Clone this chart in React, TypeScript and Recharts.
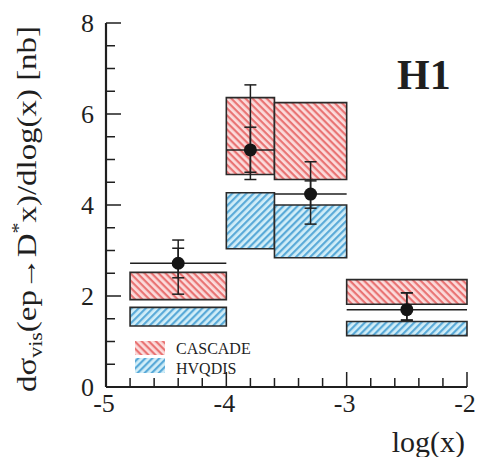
import React from 'react';
import {
  ComposedChart,
  XAxis,
  YAxis,
  Scatter,
  ErrorBar,
  ReferenceArea,
} from 'recharts';

// Bins in log(x)
const binLow = [-4.8, -4.0, -3.6, -3.0];
const binHigh = [-4.0, -3.6, -3.0, -2.0];

// CASCADE prediction band
const cascadeLow = [1.92, 4.67, 4.56, 1.82];
const cascadeHigh = [2.52, 6.36, 6.25, 2.36];

// HVQDIS prediction band
const hvqdisLow = [1.34, 3.04, 2.84, 1.13];
const hvqdisHigh = [1.75, 4.27, 4.0, 1.44];

// H1 data
const dataX = [-4.4, -3.8, -3.3, -2.5];
const dataY = [2.72, 5.21, 4.24, 1.7];
const statLow = [2.4, 4.72, 3.93, 1.47];
const statHigh = [3.05, 5.71, 4.53, 2.07];
const totLow = [2.04, 4.56, 3.58, 1.47];
const totHigh = [3.23, 6.64, 4.95, 2.07];

const xTicks = [-5, -4.8, -4.6, -4.4, -4.2, -4, -3.8, -3.6, -3.4, -3.2, -3, -2.8, -2.6, -2.4, -2.2, -2];
const yTicks = [0, 0.5, 1, 1.5, 2, 2.5, 3, 3.5, 4, 4.5, 5, 5.5, 6, 6.5, 7, 7.5, 8];
const xMajorLabels = ['-5', '-4', '-3', '-2'];
const yMajorLabels = ['0', '2', '4', '6', '8'];

const FONT = "'Liberation Serif', 'Times New Roman', serif";
const INK = '#1f1f1f';

const points = dataX.map((x, i) => ({
  x,
  y: dataY[i],
  ex: (binHigh[i] - binLow[i]) / 2,
  eStat: [dataY[i] - statLow[i], statHigh[i] - dataY[i]],
  eTot: [dataY[i] - totLow[i], totHigh[i] - dataY[i]],
}));

const isMajorX = (v: number) => Math.abs(v - Math.round(v)) < 1e-6;
const isMajorY = (v: number) => Math.abs(v / 2 - Math.round(v / 2)) < 1e-6;

const BottomTick = (props: any) => {
  const { x, y, payload } = props;
  const v = payload.value as number;
  const major = isMajorX(v);
  const len = major ? 15 : 9;
  return (
    <g>
      <line x1={x} y1={y} x2={x} y2={y - len} stroke={INK} strokeWidth={1.5} />
      {major && (
        <text x={x - 2} y={y + 25} textAnchor="middle" fontFamily={FONT} fontSize={26} fill={INK}>
          {xMajorLabels[Math.round(v) + 5]}
        </text>
      )}
    </g>
  );
};

const TopTick = (props: any) => {
  const { x, y, payload } = props;
  const major = isMajorX(payload.value);
  const len = major ? 15 : 9;
  return <line x1={x} y1={y} x2={x} y2={y + len} stroke={INK} strokeWidth={1.5} />;
};

const LeftTick = (props: any) => {
  const { x, y, payload } = props;
  const v = payload.value as number;
  const major = isMajorY(v);
  const len = major ? 15 : 9;
  return (
    <g>
      <line x1={x} y1={y} x2={x + len} y2={y} stroke={INK} strokeWidth={1.5} />
      {major && (
        <text x={x - 12} y={y + 9} textAnchor="end" fontFamily={FONT} fontSize={26} fill={INK}>
          {yMajorLabels[Math.round(v / 2)]}
        </text>
      )}
    </g>
  );
};

const RightTick = (props: any) => {
  const { x, y, payload } = props;
  const major = isMajorY(payload.value);
  const len = major ? 15 : 9;
  return <line x1={x} y1={y} x2={x - len} y2={y} stroke={INK} strokeWidth={1.5} />;
};

const Dot = (props: any) => {
  const { cx, cy } = props;
  return <circle cx={cx} cy={cy} r={6.5} fill="#151515" />;
};

export default function App() {
  return (
    <div style={{ position: 'absolute', left: 0, top: 0, width: 477, height: 457, background: '#fff' }}>
      <ComposedChart
        width={477}
        height={457}
        margin={{ top: 23, right: 10, bottom: 0, left: 0 }}
      >
        <defs>
          <pattern id="redHatch" patternUnits="userSpaceOnUse" width="5" height="5" patternTransform="rotate(45)">
            <rect x="0" y="0" width="5" height="5" fill="#fbdcdc" />
            <rect x="0" y="0" width="5" height="2.2" fill="#e97474" />
          </pattern>
          <pattern id="blueHatch" patternUnits="userSpaceOnUse" width="5" height="5" patternTransform="rotate(-45)">
            <rect x="0" y="0" width="5" height="5" fill="#d2eef8" />
            <rect x="0" y="0" width="5" height="2.2" fill="#5aaad8" />
          </pattern>
        </defs>
        <XAxis
          xAxisId="b"
          type="number"
          dataKey="x"
          domain={[-5, -2]}
          ticks={xTicks}
          interval={0}
          allowDataOverflow
          height={70}
          tickSize={0}
          tickMargin={0}
          tickLine={false}
          axisLine={{ stroke: INK, strokeWidth: 2.2 }}
          tick={<BottomTick />}
        />
        <XAxis
          xAxisId="t"
          orientation="top"
          type="number"
          dataKey="x"
          domain={[-5, -2]}
          ticks={xTicks}
          interval={0}
          allowDataOverflow
          height={0}
          tickSize={0}
          tickMargin={0}
          tickLine={false}
          axisLine={{ stroke: INK, strokeWidth: 2.2 }}
          tick={<TopTick />}
        />
        <YAxis
          yAxisId="l"
          type="number"
          dataKey="y"
          domain={[0, 8]}
          ticks={yTicks}
          interval={0}
          allowDataOverflow
          width={106}
          tickSize={0}
          tickMargin={0}
          tickLine={false}
          axisLine={{ stroke: INK, strokeWidth: 2.2 }}
          tick={<LeftTick />}
        />
        <YAxis
          yAxisId="r"
          orientation="right"
          type="number"
          dataKey="y"
          domain={[0, 8]}
          ticks={yTicks}
          interval={0}
          allowDataOverflow
          width={0}
          tickSize={0}
          tickMargin={0}
          tickLine={false}
          axisLine={{ stroke: INK, strokeWidth: 2.2 }}
          tick={<RightTick />}
        />

        {binLow.map((lo, i) => (
          <ReferenceArea
            key={`c${i}`}
            xAxisId="b"
            yAxisId="l"
            x1={lo}
            x2={binHigh[i]}
            y1={cascadeLow[i]}
            y2={cascadeHigh[i]}
            fill="url(#redHatch)"
            fillOpacity={1}
            stroke="#2a2a2a"
            strokeWidth={1.6}
            ifOverflow="extendDomain"
          />
        ))}
        {binLow.map((lo, i) => (
          <ReferenceArea
            key={`h${i}`}
            xAxisId="b"
            yAxisId="l"
            x1={lo}
            x2={binHigh[i]}
            y1={hvqdisLow[i]}
            y2={hvqdisHigh[i]}
            fill="url(#blueHatch)"
            fillOpacity={1}
            stroke="#2a2a2a"
            strokeWidth={1.6}
            ifOverflow="extendDomain"
          />
        ))}

        <Scatter
          xAxisId="b"
          yAxisId="l"
          data={points}
          dataKey="y"
          isAnimationActive={false}
          shape={<Dot />}
        >
          <ErrorBar dataKey="ex" direction="x" width={0} stroke={INK} strokeWidth={1.5} />
          <ErrorBar dataKey="eTot" direction="y" width={6} stroke={INK} strokeWidth={1.5} />
          <ErrorBar dataKey="eStat" direction="y" width={6} stroke={INK} strokeWidth={1.5} />
        </Scatter>

        <text x={397} y={89} fontFamily={FONT} fontWeight="bold" fontSize={42} fill={INK}>
          H1
        </text>
        <text x={465} y={452} textAnchor="end" fontFamily={FONT} fontSize={30} fill={INK}>
          log(x)
        </text>
        <text
          x={0}
          y={0}
          transform="translate(36,209) rotate(-90)"
          textAnchor="middle"
          fontFamily={FONT}
          fontSize={27}
          fill={INK}
          textLength={366}
          lengthAdjust="spacingAndGlyphs"
        >
          <tspan>dσ</tspan>
          <tspan dy={6} fontSize={18}>vis</tspan>
          <tspan dy={-6}>(ep→D</tspan>
          <tspan dy={-11} fontSize={18}>*</tspan>
          <tspan dy={11}>x)/dlog(x) [nb]</tspan>
        </text>

        <rect x={135} y={341} width={30} height={14} fill="url(#redHatch)" />
        <rect x={135} y={358} width={30} height={15} fill="url(#blueHatch)" />
        <text x={176} y={354} fontFamily={FONT} fontSize={16} fill={INK}>
          CASCADE
        </text>
        <text x={176} y={374} fontFamily={FONT} fontSize={16} fill={INK}>
          HVQDIS
        </text>
      </ComposedChart>
    </div>
  );
}
